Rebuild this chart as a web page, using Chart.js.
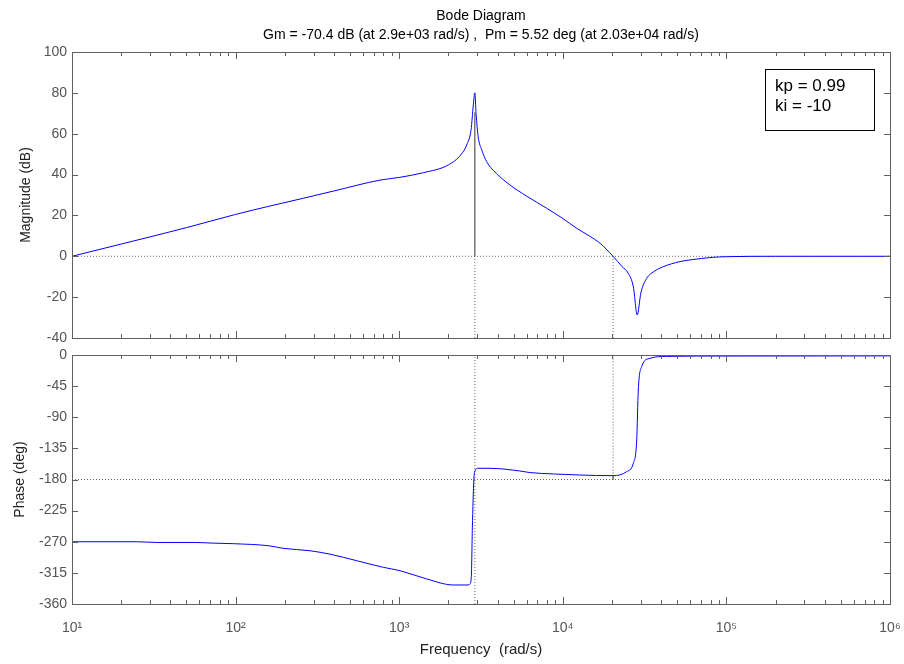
<!DOCTYPE html>
<html>
<head>
<meta charset="utf-8">
<title>Bode Diagram</title>
<script src="https://cdn.jsdelivr.net/npm/chart.js@4.4.1/dist/chart.umd.min.js"></script>
<style>
  html, body { margin: 0; padding: 0; background: #fff; }
  #wrap { position: relative; width: 904px; height: 664px; }
  #magChart { position: absolute; left: 0; top: 0; }
  #phaseChart { position: absolute; left: 0; top: 345px; }
</style>
</head>
<body>
<div id="wrap">
  <canvas id="magChart" width="904" height="345"></canvas>
  <canvas id="phaseChart" width="904" height="319"></canvas>
</div>
<script>
// values
const magFreq = [10, 20, 30, 50, 100, 162, 259, 400, 764, 1000, 1403, 1995, 2400, 2585, 2750, 2838, 2900,
  2950, 3040, 3200, 3427, 4000, 4753, 6000, 7974, 10000, 12170, 14500, 16870, 20300, 23000, 25120,
  27000, 28500, 30000, 32560, 36000, 41100, 52000, 59800, 82800, 100000, 200000, 1000000];
const magDb = [0, 6, 9.5, 14, 20.5, 24.6, 28.4, 32, 37.3, 38.6, 40.9, 44.7, 50, 54.5, 62, 74, 80,
  70, 58.5, 52, 46.3, 40, 34.9, 29.5, 23.5, 18.5, 13.7, 10, 6.4, 0, -5, -8.3,
  -15, -28.7, -18, -10.8, -7.5, -5.1, -2.6, -1.8, -0.5, -0.2, 0, 0];

const phaseFreq = [10, 24.9, 33, 55, 73, 96.8, 162, 195, 285, 378, 550, 800, 1011, 1473, 2143, 2644,
  2710, 2760, 2800, 2860, 2900, 3040, 3590, 5470, 6310, 8750, 12730, 20300, 24550, 26970, 28300,
  28940, 30340, 34100, 43150, 100000, 1000000];
const phaseDeg = [-270, -270, -271, -271, -272, -272.8, -276, -279.5, -283, -288, -297.4, -307, -311.8, -323.8, -332.5, -332.5,
  -331, -320, -250, -180, -168, -163.8, -163.8, -167.7, -170, -172, -173.5, -174.5, -168.7, -156.6, -122.9,
  -50.6, -16.9, -4.8, -2, -1.5, -1.3];

const gmFreq = 2900;   // rad/s
const gmDb = 70.4;
const pmFreq = 20300;  // rad/s
const pmDeg = 5.52;

const xTickValues = [10, 100, 1000, 10000, 100000, 1000000];
const xTickLabels = ['10¹', '10²', '10³', '10⁴', '10⁵', '10⁶'];
const titleLines = ['Bode Diagram', 'Gm = -70.4 dB (at 2.9e+03 rad/s) ,  Pm = 5.52 deg (at 2.03e+04 rad/s)'];
const noteLines = ['kp = 0.99', 'ki = -10'];

Chart.defaults.font.family = '"Liberation Sans", Arial, sans-serif';
Chart.defaults.color = '#555';

const toPoints = (xs, ys) => xs.map((v, i) => ({ x: v, y: ys[i] }));

const blueLine = (data) => ({
  data: data,
  borderColor: '#0000ff',
  borderWidth: 1,
  pointRadius: 0,
  cubicInterpolationMode: 'monotone'
});
const dotted = (data) => ({
  data: data,
  borderColor: '#666',
  borderWidth: 1,
  borderDash: [1, 2],
  pointRadius: 0
});
const solid = (data) => ({
  data: data,
  borderColor: '#333',
  borderWidth: 1,
  pointRadius: 0
});

// box round the plot area, and the inward tick marks
const boxTicks = {
  id: 'boxTicks',
  afterDraw(chart) {
    const { ctx, chartArea: a, scales: { x, y } } = chart;
    ctx.save();
    ctx.strokeStyle = '#606060';
    ctx.lineWidth = 1;
    ctx.beginPath();
    for (let e = 1; e < 6; e++) {
      for (let m = 1; m < 10; m++) {
        const v = m * Math.pow(10, e);
        if (v <= 10) continue;
        const px = Math.round(x.getPixelForValue(v)) + 0.5;
        const len = m === 1 ? 7 : 4;
        ctx.moveTo(px, a.top); ctx.lineTo(px, a.top + len);
        ctx.moveTo(px, a.bottom); ctx.lineTo(px, a.bottom - len);
      }
    }
    y.ticks.forEach(t => {
      const py = Math.round(y.getPixelForValue(t.value)) + 0.5;
      ctx.moveTo(a.left, py); ctx.lineTo(a.left + 6, py);
      ctx.moveTo(a.right, py); ctx.lineTo(a.right - 6, py);
    });
    ctx.stroke();
    ctx.strokeRect(Math.round(a.left) + 0.5, Math.round(a.top) + 0.5,
      Math.round(a.right - a.left), Math.round(a.bottom - a.top));
    ctx.restore();
  }
};

// the kp / ki note in the top plot
const noteBox = {
  id: 'noteBox',
  afterDraw(chart) {
    if (chart.canvas.id !== 'magChart') return;
    const { ctx, chartArea: a } = chart;
    const w = 109, h = 61;
    const left = a.right - 16 - w, top = a.top + 17;
    ctx.save();
    ctx.fillStyle = '#fff';
    ctx.fillRect(left, top, w, h);
    ctx.strokeStyle = '#000';
    ctx.lineWidth = 1;
    ctx.strokeRect(left + 0.5, top + 0.5, w, h);
    ctx.fillStyle = '#000';
    ctx.font = '17px "Liberation Sans", Arial, sans-serif';
    ctx.textBaseline = 'middle';
    noteLines.forEach((s, i) => ctx.fillText(s, left + 10, top + 17 + i * 20));
    ctx.restore();
  }
};

const logX = (show) => ({
  type: 'logarithmic',
  min: 10,
  max: 1000000,
  display: show,
  afterBuildTicks: s => { s.ticks = xTickValues.map(v => ({ value: v })); },
  afterFit: s => {
    if (show) s.height = 60;
    s.paddingLeft = 0;
    s.paddingRight = 0;
  },
  grid: { display: false, drawTicks: false },
  border: { display: false },
  ticks: {
    autoSkip: false,
    maxRotation: 0,
    padding: 16,
    font: { size: 14 },
    callback: (v, i) => xTickLabels[i]
  },
  title: {
    display: true,
    text: 'Frequency  (rad/s)',
    color: '#222',
    font: { size: 15 },
    padding: { top: 0, bottom: 5 }
  }
});

const yAxis = (min, max, step, label, titlePad) => ({
  min: min,
  max: max,
  afterFit: s => {
    s.width = 72;
    s.paddingTop = 0;
    s.paddingBottom = 0;
  },
  grid: { display: false, drawTicks: false },
  border: { display: false },
  ticks: { stepSize: step, padding: 5, font: { size: 14 } },
  title: {
    display: true,
    text: label,
    color: '#222',
    font: { size: 14 },
    padding: { top: titlePad, bottom: 0 }
  }
});

new Chart(document.getElementById('magChart'), {
  type: 'line',
  data: {
    datasets: [
      blueLine(toPoints(magFreq, magDb)),
      solid([{ x: gmFreq, y: 0 }, { x: gmFreq, y: gmDb }]),
      dotted([{ x: 10, y: 0 }, { x: 1000000, y: 0 }]),
      dotted([{ x: gmFreq, y: -40 }, { x: gmFreq, y: 0 }]),
      dotted([{ x: pmFreq, y: -40 }, { x: pmFreq, y: 0 }])
    ]
  },
  options: {
    responsive: false,
    animation: false,
    layout: { padding: { left: 0, right: 14, top: 0, bottom: 7 } },
    plugins: {
      legend: { display: false },
      tooltip: { enabled: false },
      title: {
        display: true,
        fullSize: false,
        text: titleLines,
        color: '#000',
        font: { size: 14, weight: 'normal', lineHeight: 1.35 },
        padding: { top: 6.5, bottom: 7.7 }
      }
    },
    scales: {
      x: logX(false),
      y: yAxis(-40, 100, 20, 'Magnitude (dB)', 18)
    }
  },
  plugins: [boxTicks, noteBox]
});

new Chart(document.getElementById('phaseChart'), {
  type: 'line',
  data: {
    datasets: [
      blueLine(toPoints(phaseFreq, phaseDeg)),
      solid([{ x: pmFreq, y: -180 }, { x: pmFreq, y: -180 + pmDeg }]),
      dotted([{ x: 10, y: -180 }, { x: 1000000, y: -180 }]),
      dotted([{ x: gmFreq, y: -360 }, { x: gmFreq, y: 0 }]),
      dotted([{ x: pmFreq, y: -180 }, { x: pmFreq, y: 0 }])
    ]
  },
  options: {
    responsive: false,
    animation: false,
    layout: { padding: { left: 0, right: 14, top: 10, bottom: 0 } },
    plugins: {
      legend: { display: false },
      tooltip: { enabled: false }
    },
    scales: {
      x: logX(true),
      y: yAxis(-360, 0, 45, 'Phase (deg)', 12)
    }
  },
  plugins: [boxTicks]
});
</script>
</body>
</html>
